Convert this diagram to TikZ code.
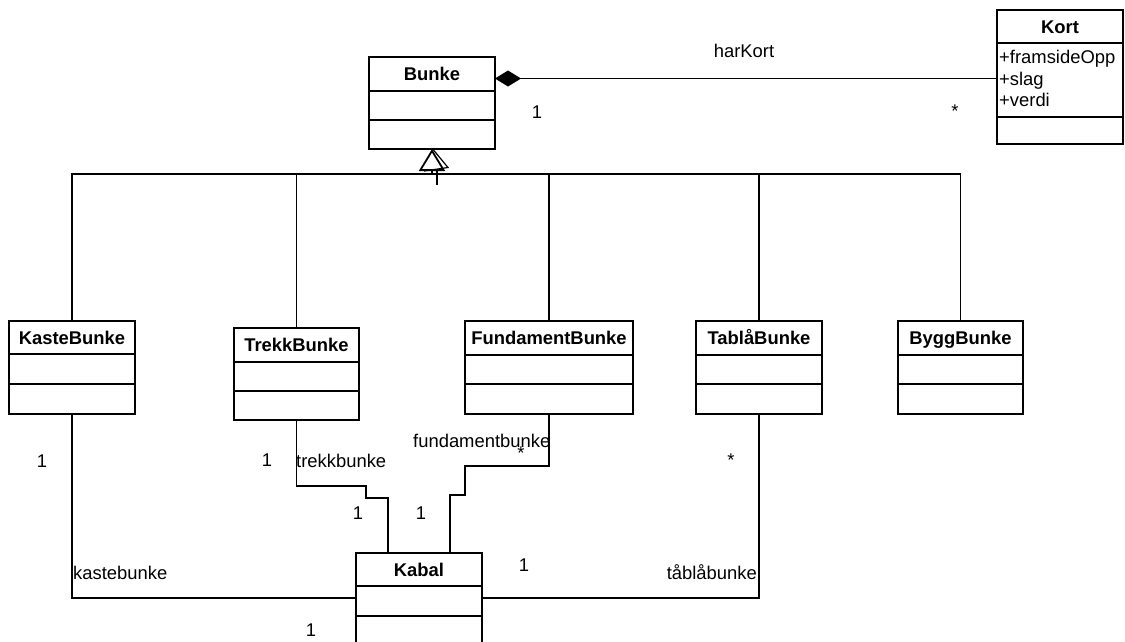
\documentclass[tikz,border=0pt]{standalone}
\usepackage{fontspec}
\setmainfont{Liberation Sans}
\usetikzlibrary{arrows.meta,calc}
\newcommand\umlclass[8]{%
  \node[classbox, minimum width=#4pt, minimum height=#5pt] (#1) at (#2,#3) {};
  \node[ctitle] (#1-title) at ($(#1.north)+(0,23)$) {#8};
  \draw[divider] ($(#1.north west)+(0,#6)$) -- ($(#1.north east)+(0,#6)$);
  \draw[divider] ($(#1.north west)+(0,#7)$) -- ($(#1.north east)+(0,#7)$);
}
\begin{document}
\begin{tikzpicture}[x=1pt,y=-1pt,
  font=\fontsize{18.4}{22}\selectfont,
  classbox/.style={draw, line width=1.8pt, anchor=north west, inner sep=0pt, outer sep=0pt},
  ctitle/.style={font=\fontsize{18.4}{22}\selectfont\bfseries, anchor=base, inner sep=0pt},
  divider/.style={line width=1.8pt},
  conn/.style={line width=1.1pt},
  lbl/.style={anchor=base, inner sep=0pt},
  lblw/.style={anchor=base west, inner sep=0pt},
  lble/.style={anchor=base east, inner sep=0pt},
]
\fill[white] (0,0) rectangle (1125,641);
\useasboundingbox (0,0) rectangle (1125,641);

% classes
\umlclass{bunke}{369}{57}{126}{92}{34}{63}{Bunke}
\umlclass{kort}{997}{10}{126}{134}{33}{107}{Kort}
\umlclass{kaste}{9}{321}{126}{93}{33}{63}{KasteBunke}
\umlclass{trekk}{234}{328}{125}{92}{34}{63}{TrekkBunke}
\umlclass{fund}{465}{321}{168}{93}{34}{63}{FundamentBunke}
\umlclass{tabla}{696}{321}{126}{93}{34}{63}{TablåBunke}
\umlclass{bygg}{898}{321}{125}{93}{34}{63}{ByggBunke}
\umlclass{kabal}{356}{553}{126}{100}{33}{63}{Kabal}

% Kort attributes
\node[lblw] (a1) at (999,63) {+framsideOpp};
\node[lblw] (a2) at (999,85) {+slag};
\node[lblw] (a3) at (999,106) {+verdi};

% composition
\draw[conn, {Diamond[length=26pt,width=16pt]}-] ($(bunke.north east)+(0,21.5)$) -- ($(kort.north west)+(0,68.5)$);
\node[lbl] (harkort) at (744,57) {harKort};
\node[lbl] (m1) at (537,118) {1};
\node[lbl] (m2) at (955,117) {*};

% generalization
\coordinate (bus) at (432,174);
\foreach \n in {kaste,trekk,fund,tabla,bygg} \draw[conn] (\n.north) |- (bus);
\draw[conn,-{Triangle[open,length=22pt,width=26pt,line width=1.8pt]}] (bus) -- (bunke.south);
\draw[line width=1.2pt] (433.5,150) -- (448,167.5) -- (424,171);
\draw[conn] (437,170) -- (437,185);

% associations to Kabal
\draw[conn] (kaste.south) |- ($(kabal.north west)+(0,45)$);
\draw[conn] (tabla.south) |- ($(kabal.north east)+(0,45)$);
\draw[conn] (trekk.south) |- (366,486) |- (388,498) -- ($(kabal.north west)+(32,0)$);
\draw[conn] (fund.south) |- (465,466) |- (450,495) -- ($(kabal.north west)+(94,0)$);

% labels
\node[lbl] (k1) at (42,467) {1};
\node[lblw] (kb) at (73,579) {kastebunke};
\node[lbl] (k2) at (311,636) {1};
\node[lbl] (t1) at (267,466) {1};
\node[lblw] (tb) at (296,467) {trekkbunke};
\node[lbl] (t2) at (358,519) {1};
\node[lblw] (fb) at (413,447) {fundamentbunke};
\node[lbl] (f1) at (521,459) {*};
\node[lbl] (f2) at (421,519) {1};
\node[lbl] (tb1) at (524,571) {1};
\node[lbl] (tb2) at (731,466) {*};
\node[lble] (tbl) at (757,579) {tåblåbunke};
\end{tikzpicture}
\end{document}
